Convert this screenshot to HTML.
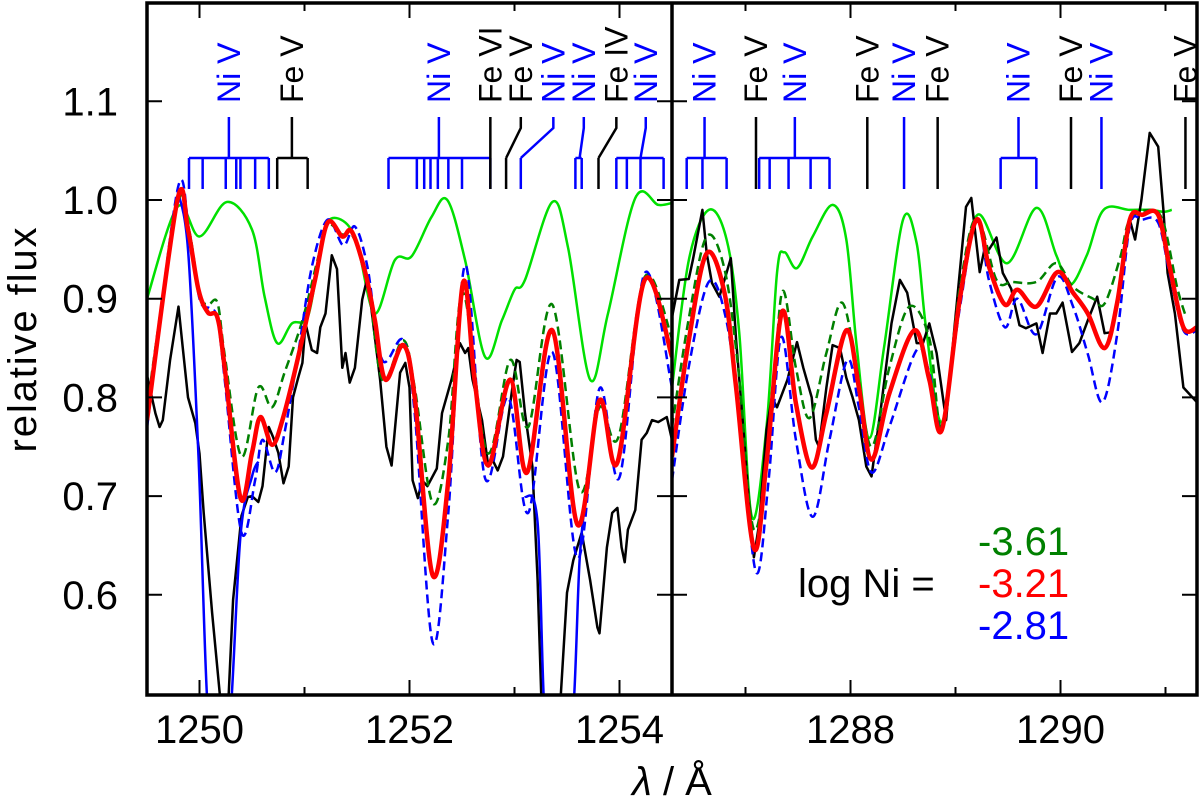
<!DOCTYPE html>
<html><head><meta charset="utf-8"><style>
html,body{margin:0;padding:0;background:#fff;}
svg{display:block;font-family:"Liberation Sans",sans-serif;}
</style></head><body>
<svg id="chart" width="1200" height="800" viewBox="0 0 1200 800" xmlns="http://www.w3.org/2000/svg">
<defs>
<clipPath id="clipL"><rect x="147" y="3" width="525" height="692"/></clipPath>
<clipPath id="clipR"><rect x="672" y="3" width="525" height="692"/></clipPath>
</defs>
<g id="gL" clip-path="url(#clipL)"></g>
<g id="gR" clip-path="url(#clipR)"></g>
<g id="axes"></g>
<text x="26" y="340" font-size="40" text-anchor="middle" transform="rotate(-90 26 340)" dy="10" textLength="225">relative flux</text>
<text x="672" y="795" font-size="40" text-anchor="middle"><tspan font-style="italic">λ</tspan> / Å</text>
<text x="798" y="597" font-size="40">log Ni =</text>
<text x="978" y="555" font-size="40" fill="#008000">-3.61</text>
<text x="978" y="597" font-size="40" fill="#ff0000">-3.21</text>
<text x="978" y="639" font-size="40" fill="#0000ff">-2.81</text>
</svg>
<script>
// ---------- data: left panel ----------
const lamL = [1249.5,1254.5];
const lamR = [1286.3,1291.3];
const yTicks = [0.6,0.7,0.8,0.9,1.0,1.1];
const yTickLabels = ["0.6","0.7","0.8","0.9","1.0","1.1"];
const xMajorL = [1250,1252,1254];
const xMinorL = [1251,1253];
const xMajorR = [1288,1290];
const xMinorR = [1287,1289,1291];

const obsL_x = [1249.49,1249.51,1249.58,1249.62,1249.65,1249.72,1249.8,1249.84,1249.89,1249.96,1250.0,1250.04,1250.12,1250.21,1250.27,1250.32,1250.4,1250.46,1250.5,1250.56,1250.6,1250.66,1250.7,1250.75,1250.8,1250.85,1250.89,1250.94,1250.98,1251.01,1251.07,1251.12,1251.15,1251.2,1251.26,1251.31,1251.36,1251.39,1251.43,1251.48,1251.55,1251.6,1251.65,1251.72,1251.78,1251.83,1251.91,1251.96,1252.0,1252.03,1252.08,1252.12,1252.17,1252.26,1252.31,1252.4,1252.48,1252.53,1252.56,1252.6,1252.69,1252.75,1252.79,1252.84,1252.89,1252.98,1253.02,1253.05,1253.1,1253.17,1253.22,1253.26,1253.43,1253.5,1253.56,1253.64,1253.72,1253.79,1253.81,1253.88,1253.93,1253.98,1254.02,1254.05,1254.08,1254.15,1254.21,1254.26,1254.31,1254.37,1254.45,1254.5];
const obsL_y = [0.826,0.818,0.784,0.77,0.777,0.838,0.892,0.851,0.80,0.774,0.743,0.683,0.582,0.48,0.48,0.595,0.68,0.699,0.70,0.694,0.71,0.77,0.76,0.744,0.713,0.73,0.80,0.82,0.835,0.875,0.848,0.845,0.871,0.885,0.944,0.93,0.83,0.845,0.815,0.83,0.899,0.922,0.878,0.818,0.75,0.731,0.825,0.835,0.81,0.716,0.698,0.716,0.71,0.728,0.784,0.818,0.855,0.845,0.85,0.818,0.777,0.73,0.737,0.726,0.74,0.81,0.838,0.836,0.784,0.73,0.615,0.48,0.48,0.602,0.635,0.663,0.615,0.567,0.561,0.648,0.683,0.688,0.648,0.633,0.666,0.686,0.757,0.764,0.777,0.775,0.78,0.757];

const redL_x = [1249.5,1249.79,1249.89,1249.99,1250.08,1250.17,1250.24,1250.39,1250.5,1250.58,1250.69,1250.79,1250.94,1251.1,1251.22,1251.36,1251.45,1251.58,1251.67,1251.77,1251.94,1252.05,1252.22,1252.37,1252.51,1252.62,1252.75,1252.96,1253.12,1253.36,1253.6,1253.81,1253.98,1254.24,1254.5];
const redL_y = [0.777,1.0,0.97,0.909,0.886,0.881,0.83,0.698,0.744,0.78,0.752,0.777,0.841,0.919,0.977,0.963,0.968,0.926,0.878,0.818,0.853,0.80,0.62,0.716,0.916,0.818,0.731,0.818,0.724,0.868,0.671,0.797,0.734,0.919,0.841];

const blueL_x = [1249.5,1249.79,1249.9,1250.0,1250.1,1250.17,1250.24,1250.4,1250.53,1250.6,1250.72,1250.81,1250.94,1251.07,1251.22,1251.37,1251.48,1251.6,1251.74,1251.94,1252.05,1252.22,1252.37,1252.53,1252.72,1252.94,1253.13,1253.36,1253.6,1253.81,1254.0,1254.24,1254.5];
const blueL_y = [0.769,1.01,0.97,0.90,0.89,0.88,0.818,0.663,0.716,0.757,0.724,0.764,0.845,0.932,0.98,0.954,0.973,0.932,0.838,0.858,0.784,0.552,0.683,0.934,0.718,0.80,0.683,0.846,0.637,0.809,0.719,0.926,0.81];

const dgL_x = [1249.5,1249.79,1249.9,1250.0,1250.08,1250.17,1250.24,1250.4,1250.56,1250.69,1250.81,1250.98,1251.13,1251.22,1251.36,1251.45,1251.6,1251.74,1251.94,1252.05,1252.22,1252.37,1252.51,1252.74,1252.96,1253.13,1253.36,1253.62,1253.81,1253.99,1254.24,1254.5];
const dgL_y = [0.79,0.995,0.97,0.905,0.894,0.896,0.843,0.74,0.81,0.79,0.825,0.878,0.942,0.975,0.965,0.965,0.92,0.818,0.858,0.81,0.693,0.757,0.906,0.744,0.838,0.77,0.894,0.706,0.79,0.76,0.922,0.86];

const lgL_x = [1249.5,1249.79,1250.0,1250.26,1250.5,1250.62,1250.74,1250.88,1251.03,1251.13,1251.22,1251.39,1251.51,1251.67,1251.86,1252.02,1252.21,1252.36,1252.53,1252.72,1252.88,1253.0,1253.1,1253.36,1253.51,1253.72,1253.89,1254.15,1254.37,1254.5];
const lgL_y = [0.90,0.993,0.963,0.998,0.97,0.902,0.855,0.875,0.881,0.936,0.978,0.977,0.952,0.885,0.939,0.943,0.983,1.0,0.939,0.841,0.878,0.909,0.919,0.998,0.952,0.818,0.885,1.002,0.995,0.997];

const bsA_x = [1249.79,1249.89,1249.99,1250.1,1250.27,1250.39,1250.5,1250.56];
const bsA_y = [1.01,0.95,0.74,0.45,0.45,0.66,0.72,0.735];
const bsB_x = [1253.1,1253.22,1253.31,1253.53,1253.62,1253.68];
const bsB_y = [0.70,0.673,0.45,0.45,0.635,0.70];

// ---------- data: right panel ----------
const obsR_x = [1286.27,1286.37,1286.46,1286.5,1286.59,1286.63,1286.68,1286.75,1286.8,1286.86,1286.91,1286.99,1287.03,1287.08,1287.13,1287.2,1287.25,1287.3,1287.4,1287.49,1287.55,1287.63,1287.67,1287.7,1287.77,1287.83,1287.9,1287.96,1288.02,1288.08,1288.15,1288.2,1288.29,1288.39,1288.47,1288.54,1288.63,1288.69,1288.75,1288.82,1288.91,1288.99,1289.1,1289.15,1289.23,1289.28,1289.32,1289.39,1289.45,1289.53,1289.61,1289.67,1289.77,1289.83,1289.9,1289.96,1290.02,1290.11,1290.18,1290.26,1290.35,1290.42,1290.48,1290.58,1290.66,1290.71,1290.77,1290.85,1290.93,1290.98,1291.02,1291.09,1291.17,1291.3];
const obsR_y = [0.865,0.919,0.92,0.94,0.99,0.946,0.916,0.902,0.919,0.941,0.858,0.754,0.696,0.638,0.672,0.767,0.80,0.79,0.818,0.856,0.83,0.80,0.757,0.75,0.81,0.853,0.85,0.82,0.80,0.777,0.73,0.72,0.79,0.875,0.919,0.906,0.855,0.855,0.875,0.845,0.777,0.871,0.993,1.002,0.927,0.952,0.95,0.962,0.926,0.91,0.873,0.87,0.875,0.845,0.885,0.885,0.896,0.846,0.855,0.878,0.902,0.865,0.866,0.922,0.98,0.96,1.0,1.068,1.054,0.99,0.926,0.885,0.81,0.795];

const redR_x = [1286.3,1286.46,1286.63,1286.8,1286.91,1287.08,1287.2,1287.35,1287.48,1287.63,1287.77,1287.96,1288.08,1288.2,1288.37,1288.61,1288.75,1288.87,1289.04,1289.2,1289.32,1289.47,1289.59,1289.77,1289.97,1290.12,1290.26,1290.42,1290.54,1290.66,1290.78,1290.93,1291.04,1291.17,1291.3];
const redR_y = [0.74,0.858,0.946,0.906,0.81,0.647,0.734,0.887,0.794,0.729,0.784,0.868,0.81,0.737,0.804,0.868,0.818,0.767,0.899,0.98,0.932,0.894,0.909,0.892,0.927,0.906,0.885,0.85,0.896,0.98,0.985,0.985,0.932,0.871,0.871];

const blueR_x = [1286.3,1286.46,1286.65,1286.81,1286.94,1287.1,1287.22,1287.34,1287.48,1287.64,1287.8,1287.97,1288.08,1288.2,1288.37,1288.63,1288.75,1288.87,1289.04,1289.2,1289.32,1289.47,1289.59,1289.77,1289.97,1290.12,1290.26,1290.4,1290.54,1290.66,1290.78,1290.93,1291.04,1291.17,1291.3];
const blueR_y = [0.716,0.831,0.917,0.882,0.784,0.623,0.716,0.861,0.757,0.679,0.757,0.838,0.79,0.724,0.77,0.848,0.825,0.77,0.89,0.98,0.918,0.871,0.90,0.864,0.922,0.892,0.844,0.795,0.864,0.973,0.98,0.977,0.925,0.868,0.868];

const dgR_x = [1286.3,1286.46,1286.63,1286.8,1286.93,1287.08,1287.24,1287.35,1287.48,1287.61,1287.77,1287.92,1288.06,1288.2,1288.37,1288.56,1288.75,1288.87,1289.04,1289.2,1289.39,1289.54,1289.77,1289.96,1290.12,1290.31,1290.42,1290.57,1290.66,1290.86,1290.98,1291.11,1291.2];
const dgR_y = [0.77,0.88,0.963,0.93,0.83,0.666,0.77,0.907,0.83,0.779,0.845,0.896,0.83,0.75,0.83,0.892,0.86,0.77,0.91,0.982,0.919,0.917,0.917,0.936,0.912,0.90,0.895,0.942,0.98,0.99,0.977,0.912,0.88];

const lgR_x = [1286.3,1286.46,1286.65,1286.82,1286.94,1287.06,1287.2,1287.3,1287.37,1287.49,1287.64,1287.83,1287.96,1288.06,1288.18,1288.32,1288.5,1288.63,1288.72,1288.87,1289.04,1289.21,1289.49,1289.77,1289.96,1290.09,1290.25,1290.41,1290.66,1290.86,1290.98,1291.06];
const lgR_y = [0.81,0.939,0.99,0.96,0.866,0.679,0.77,0.926,0.947,0.931,0.963,0.995,0.96,0.851,0.759,0.851,0.98,0.956,0.87,0.775,0.90,0.985,0.936,0.992,0.944,0.914,0.944,0.99,0.99,0.99,0.988,0.99];

// ---------- line identifications ----------
const idL_label = ["Ni V","Fe V","Ni V","Fe VI","Fe V","Ni V","Ni V","Fe IV","Ni V"];
const idL_el = ["Ni","Fe","Ni","Fe","Fe","Ni","Ni","Fe","Ni"];
const idL_pos = [1250.28,1250.88,1252.28,1252.77,1253.06,1253.37,1253.66,1253.97,1254.25];
const idL_stem = [1250.28,1250.88,1252.28,1252.77,1252.92,1253.06,1253.62,1253.80,1254.2];
const idL_ticks = [[1249.90,1250.03,1250.25,1250.35,1250.39,1250.53,1250.66],[1250.74,1251.03],[1251.80,1252.07,1252.14,1252.20,1252.27,1252.37,1252.50,1252.77],[1252.77],[1252.92],[1253.06],[1253.58,1253.64],[1253.80],[1253.97,1254.07,1254.2,1254.42]];
const idR_label = ["Ni V","Fe V","Ni V","Fe V","Ni V","Fe V","Ni V","Fe V","Ni V","Fe V"];
const idR_el = ["Ni","Fe","Ni","Fe","Ni","Fe","Ni","Fe","Ni","Fe"];
const idR_pos = [1286.61,1287.10,1287.47,1288.16,1288.51,1288.83,1289.60,1290.10,1290.39,1291.19];
const idR_stem = [1286.61,1287.10,1287.47,1288.16,1288.51,1288.83,1289.60,1290.10,1290.39,1291.19];
const idR_ticks = [[1286.44,1286.59,1286.82],[1287.10],[1287.13,1287.23,1287.41,1287.62,1287.80],[1288.16],[1288.51],[1288.83],[1289.43,1289.77],[1290.10],[1290.39],[1291.19]];

// ---------- axes ----------
const NS="http://www.w3.org/2000/svg";
const X0L=147, X1L=672, X0R=672, X1R=1197, YT=3, YB=695;
function xL(l){return X0L+(l-lamL[0])/(lamL[1]-lamL[0])*(X1L-X0L);}
function xR(l){return X0R+(l-lamR[0])/(lamR[1]-lamR[0])*(X1R-X0R);}
function yS(f){return 200-(f-1.0)*987;}
function mk(tag,attrs,parent){const e=document.createElementNS(NS,tag);for(const k in attrs)e.setAttribute(k,attrs[k]);parent.appendChild(e);return e;}
function smooth(pts){
  let d="M"+pts[0][0].toFixed(1)+","+pts[0][1].toFixed(1);
  for(let i=0;i<pts.length-1;i++){
    const p0=pts[Math.max(0,i-1)],p1=pts[i],p2=pts[i+1],p3=pts[Math.min(pts.length-1,i+2)];
    const c1=[p1[0]+(p2[0]-p0[0])/6,p1[1]+(p2[1]-p0[1])/6];
    const c2=[p2[0]-(p3[0]-p1[0])/6,p2[1]-(p3[1]-p1[1])/6];
    d+="C"+c1[0].toFixed(1)+","+c1[1].toFixed(1)+" "+c2[0].toFixed(1)+","+c2[1].toFixed(1)+" "+p2[0].toFixed(1)+","+p2[1].toFixed(1);
  }
  return d;
}
function poly(pts){return "M"+pts.map(p=>p[0].toFixed(1)+","+p[1].toFixed(1)).join("L");}
function series(g,xf,xs,ys,opts,name,isSmooth){
  const pts=xs.map((l,i)=>[xf(l),yS(ys[i])]);
  const p=mk("path",{d:isSmooth?smooth(pts):poly(pts),fill:"none",stroke:opts.c,"stroke-width":opts.w,"stroke-linejoin":"round"},g);
  if(opts.dash)p.setAttribute("stroke-dasharray",opts.dash);
  
  
}
const gL=document.getElementById("gL"), gR=document.getElementById("gR");
series(gL,xL,lgL_x,lgL_y,{c:"#00e000",w:2.5},"model-ni-3.61-left",true);
series(gL,xL,obsL_x,obsL_y,{c:"#000",w:2.5},"observed-spectrum-left",false);
series(gL,xL,bsA_x,bsA_y,{c:"#0000ff",w:2.5},"model-blue-solid-a",true);
series(gL,xL,bsB_x,bsB_y,{c:"#0000ff",w:2.5},"model-blue-solid-b",true);
series(gL,xL,dgL_x,dgL_y,{c:"#008000",w:2.5,dash:"9,5"},"model-green-dashed-left",true);
series(gL,xL,blueL_x,blueL_y,{c:"#0000ff",w:2.5,dash:"9,5"},"model-ni-2.81-left",true);
series(gL,xL,redL_x,redL_y,{c:"#ff0000",w:4.5},"model-ni-3.21-left",true);
series(gR,xR,lgR_x,lgR_y,{c:"#00e000",w:2.5},"model-ni-3.61-right",true);
series(gR,xR,obsR_x,obsR_y,{c:"#000",w:2.5},"observed-spectrum-right",false);
series(gR,xR,dgR_x,dgR_y,{c:"#008000",w:2.5,dash:"9,5"},"model-green-dashed-right",true);
series(gR,xR,blueR_x,blueR_y,{c:"#0000ff",w:2.5,dash:"9,5"},"model-ni-2.81-right",true);
series(gR,xR,redR_x,redR_y,{c:"#ff0000",w:4.5},"model-ni-3.21-right",true);

// line IDs
function ids(g,xf,labels,els,pos,stem,ticks,side){
  for(let i=0;i<labels.length;i++){
    const col=els[i]==="Ni"?"#0000ff":"#000";
    const lx=xf(pos[i]), sx=xf(stem[i]);
    const tx=ticks[i].map(xf);
    const grp=mk("g",{},g);
    
    
    let d;
    if(Math.abs(lx-sx)>1) d="M"+lx+",117L"+lx+",128L"+sx+",158";
    else d="M"+lx+",117L"+lx+",158";
    if(tx.length>1){d+="M"+Math.min(...tx)+",158L"+Math.max(...tx)+",158";}
    tx.forEach(t=>{d+="M"+t+",158L"+t+",189";});
    if(tx.length===1&&Math.abs(tx[0]-sx)>1){d+="M"+sx+",158L"+tx[0]+",158";}
    mk("path",{d:d,fill:"none",stroke:col,"stroke-width":2.5},grp);
    const t=mk("text",{x:lx+11,y:103,"font-size":32,fill:col,transform:"rotate(-90 "+(lx+11)+" 103)"},grp);
    t.textContent=labels[i];
  }
}
const svg=document.getElementById("chart");
const idg=mk("g",{},svg);


ids(idg,xL,idL_label,idL_el,idL_pos,idL_stem,idL_ticks,"left");
ids(idg,xR,idR_label,idR_el,idR_pos,idR_stem,idR_ticks,"right");

// frame & ticks
const ax=document.getElementById("axes");
let d="";
[[X0L,X1L],[X0R,X1R]].forEach(([a,b])=>{
  yTicks.forEach(v=>{const y=yS(v);d+="M"+a+","+y+"L"+(a+15)+","+y+"M"+b+","+y+"L"+(b-15)+","+y;});
});
xMajorL.forEach(l=>{const x=xL(l);d+="M"+x+","+YB+"L"+x+","+(YB-15)+"M"+x+","+YT+"L"+x+","+(YT+15);});
xMinorL.forEach(l=>{const x=xL(l);d+="M"+x+","+YB+"L"+x+","+(YB-8)+"M"+x+","+YT+"L"+x+","+(YT+8);});
xMajorR.forEach(l=>{const x=xR(l);d+="M"+x+","+YB+"L"+x+","+(YB-15)+"M"+x+","+YT+"L"+x+","+(YT+15);});
xMinorR.forEach(l=>{const x=xR(l);d+="M"+x+","+YB+"L"+x+","+(YB-8)+"M"+x+","+YT+"L"+x+","+(YT+8);});
const tk=mk("path",{d:d,stroke:"#000","stroke-width":2,fill:"none"},ax);


const fr=mk("path",{d:"M"+X0L+","+YT+"H"+X1R+"V"+YB+"H"+X0L+"ZM"+X1L+","+YT+"V"+YB,stroke:"#000","stroke-width":3.5,fill:"none"},ax);


yTicks.forEach((v,i)=>{
  const t=mk("text",{x:118,y:yS(v)+14,"font-size":40,"text-anchor":"end"},ax);
  t.textContent=yTickLabels[i];
  
  
});
xMajorL.forEach(l=>{
  const t=mk("text",{x:xL(l),y:743,"font-size":40,"text-anchor":"middle"},ax);
  t.textContent=String(l);
  
  
});
xMajorR.forEach(l=>{
  const t=mk("text",{x:xR(l),y:743,"font-size":40,"text-anchor":"middle"},ax);
  t.textContent=String(l);
  
  
});
</script>
</body></html>
